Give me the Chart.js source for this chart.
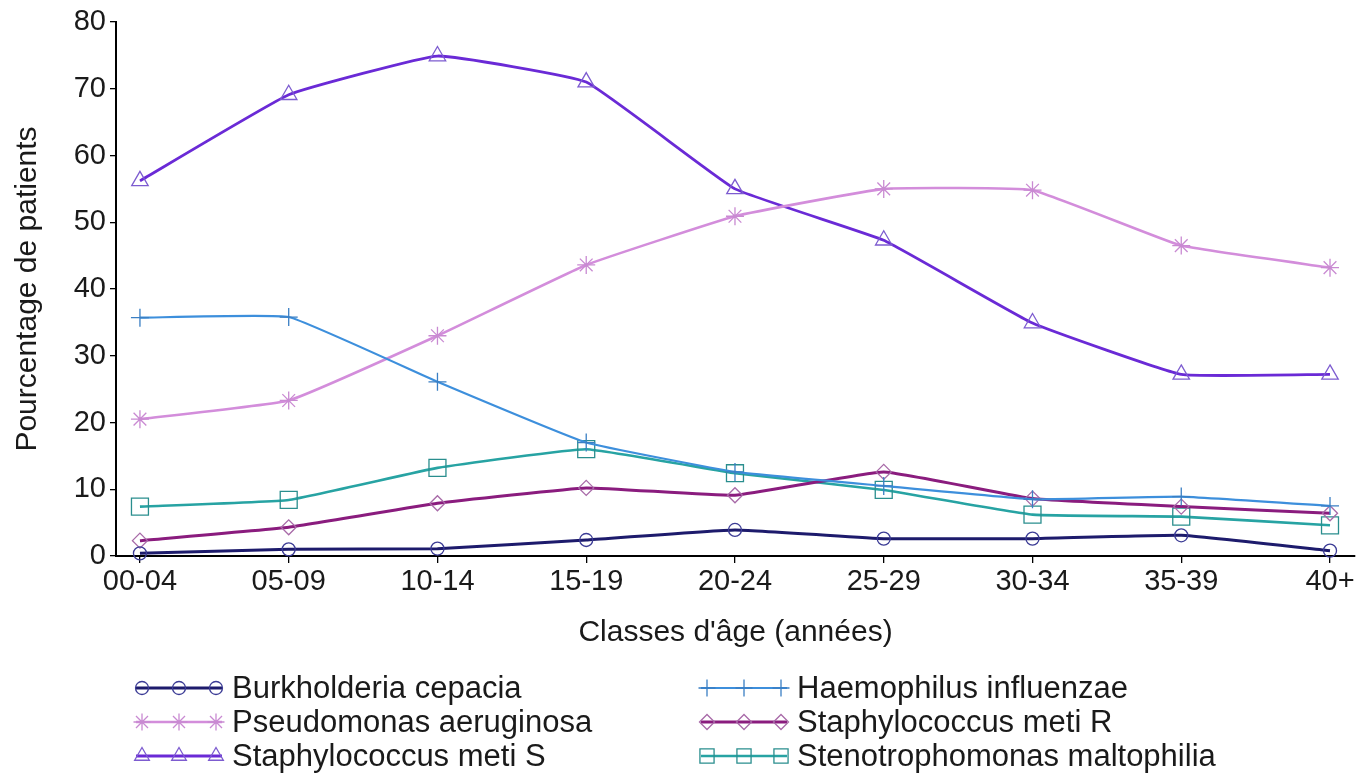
<!DOCTYPE html>
<html>
<head>
<meta charset="utf-8">
<script src="https://cdn.jsdelivr.net/npm/chart.js@4.4.1/dist/chart.umd.min.js"></script>
<style>
html,body{margin:0;padding:0;background:#fff;}
#wrap{width:1359px;height:778px;position:relative;}
</style>
</head>
<body>
<div id="wrap"><canvas id="c" width="1359" height="778"></canvas></div>
<script>
const categories = ['00-04','05-09','10-14','15-19','20-24','25-29','30-34','35-39','40+'];
const burkholderia = [0.4, 1.0, 1.1, 2.4, 3.9, 2.6, 2.6, 3.1, 0.8];
const haemophilus = [35.7, 35.8, 26.1, 17.0, 12.6, 10.5, 8.5, 8.9, 7.5];
const pseudomonas = [20.5, 23.3, 33.0, 43.6, 50.9, 55.0, 54.8, 46.5, 43.2];
const staphMetiR = [2.3, 4.3, 7.9, 10.2, 9.1, 12.6, 8.6, 7.4, 6.4];
const staphMetiS = [56.2, 69.1, 74.9, 71.0, 55.0, 47.3, 34.9, 27.2, 27.2];
const stenotrophomonas = [7.4, 8.4, 13.2, 16.0, 12.4, 9.9, 6.2, 5.9, 4.6];
const seriesNames = ['Burkholderia cepacia','Haemophilus influenzae','Pseudomonas aeruginosa','Staphylococcus meti R','Staphylococcus meti S','Stenotrophomonas maltophilia'];
const yTicks = [0,10,20,30,40,50,60,70,80];

const FONT = '"Liberation Sans", Arial, Helvetica, sans-serif';

function mk(name, values, color, markColor, style, radius, width) {
  return {
    label: name,
    data: values.map((v, i) => ({x: i, y: v})),
    borderColor: color,
    borderWidth: width,
    pointStyle: style,
    pointRadius: radius,
    pointBorderColor: markColor,
    pointBackgroundColor: 'rgba(0,0,0,0)',
    pointBorderWidth: 1.3,
    tension: 0.1,
    fill: false,
    clip: false
  };
}

const datasets = [
  mk(seriesNames[0], burkholderia, '#1d1b6c', '#3b3b95', 'circle', 6.5, 3),
  mk(seriesNames[1], haemophilus, '#3d8fdc', '#3a7fc4', 'cross', 9, 2.2),
  mk(seriesNames[2], pseudomonas, '#d38ddb', '#c98ad2', 'star', 9, 2.6),
  mk(seriesNames[3], staphMetiR, '#8a1c7e', '#a86aa8', 'rectRot', 7.5, 3),
  mk(seriesNames[4], staphMetiS, '#6a2ad6', '#7d5cd0', 'triangle', 9.5, 2.8),
  mk(seriesNames[5], stenotrophomonas, '#27a3a3', '#2a8e8e', 'rect', 12, 2.6)
];

function drawMarker(ctx, style, r, x, y, color, bw) {
  ctx.save();
  ctx.strokeStyle = color;
  ctx.fillStyle = 'rgba(0,0,0,0)';
  ctx.lineWidth = bw;
  if (Chart.helpers && Chart.helpers.drawPoint) {
    Chart.helpers.drawPoint(ctx, {pointStyle: style, radius: r, rotation: 0, borderWidth: bw}, x, y);
  }
  ctx.restore();
}

const legendPlugin = {
  id: 'twoColLegend',
  afterDraw(chart) {
    const ctx = chart.ctx;
    const cols = [{x0: 136, x1: 222, tx: 232}, {x0: 701, x1: 787, tx: 797}];
    const rows = [688, 722, 756];
    chart.data.datasets.forEach((ds, i) => {
      const col = cols[i % 2];
      const y = rows[Math.floor(i / 2)];
      ctx.save();
      ctx.strokeStyle = ds.borderColor;
      ctx.lineWidth = ds.borderWidth;
      ctx.beginPath();
      ctx.moveTo(col.x0, y);
      ctx.lineTo(col.x1, y);
      ctx.stroke();
      ctx.restore();
      const r = ds.pointStyle === 'rect' ? 10 : Math.min(ds.pointRadius, 8.5);
      [col.x0 + 6, (col.x0 + col.x1) / 2, col.x1 - 6].forEach(mx => drawMarker(ctx, ds.pointStyle, r, mx, y, ds.pointBorderColor, ds.pointBorderWidth));
      ctx.save();
      ctx.fillStyle = '#1a1a1a';
      ctx.font = '31px ' + FONT;
      ctx.textBaseline = 'middle';
      ctx.textAlign = 'left';
      ctx.fillText(ds.label, col.tx, y + 1);
      ctx.restore();
    });
  }
};

new Chart(document.getElementById('c'), {
  type: 'line',
  data: {datasets},
  plugins: [legendPlugin],
  options: {
    responsive: false,
    animation: false,
    layout: {autoPadding: false, padding: {left: 0, right: 4, top: 22, bottom: 127}},
    plugins: {legend: {display: false}, tooltip: {enabled: false}},
    scales: {
      x: {
        type: 'linear',
        min: -0.161,
        max: 8.168,
        afterBuildTicks: s => { s.ticks = categories.map((_, i) => ({value: i})); },
        afterFit: s => { s.height = 95; s.paddingLeft = 0; s.paddingRight = 0; },
        ticks: {
          callback: v => categories[v],
          color: '#1a1a1a',
          font: {family: FONT, size: 29},
          padding: 2,
          maxRotation: 0,
          autoSkip: false
        },
        grid: {drawOnChartArea: false, drawTicks: true, tickLength: 7, color: '#000', lineWidth: 1.3},
        border: {display: true, color: '#000', width: 2},
        title: {display: true, text: "Classes d'âge (années)", color: '#1a1a1a', font: {family: FONT, size: 30}, padding: {top: 0, bottom: 0}}
      },
      y: {
        min: 0,
        max: 80,
        afterBuildTicks: s => { s.ticks = yTicks.map(v => ({value: v})); },
        afterFit: s => { s.width = 116; s.paddingTop = 0; s.paddingBottom = 0; },
        ticks: {
          color: '#1a1a1a',
          font: {family: FONT, size: 29},
          padding: 4
        },
        grid: {drawOnChartArea: false, drawTicks: true, tickLength: 6, color: '#000', lineWidth: 1.3},
        border: {display: true, color: '#000', width: 2},
        title: {display: true, text: 'Pourcentage de patients', color: '#1a1a1a', font: {family: FONT, size: 30}, padding: {top: 10, bottom: 0}}
      }
    }
  }
});
</script>
</body>
</html>
